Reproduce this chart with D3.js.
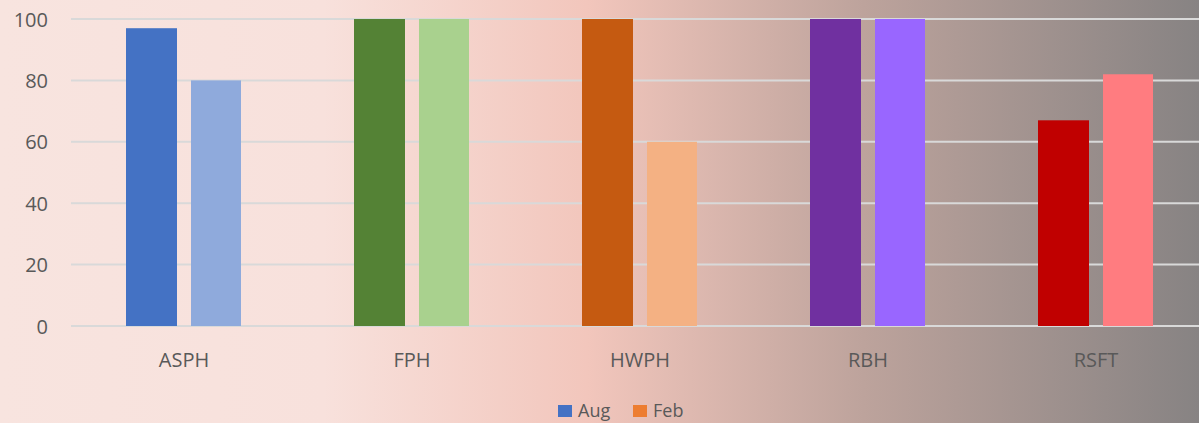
<!DOCTYPE html>
<html>
<head>
<meta charset="utf-8">
<script src="https://cdn.jsdelivr.net/npm/d3@7"></script>
<style>
  body { margin: 0; }
  svg { display: block; font-family: "Open Sans", sans-serif; }
</style>
</head>
<body>
<div id="chart"></div>
<script>
const categories = ['ASPH', 'FPH', 'HWPH', 'RBH', 'RSFT'];
const seriesNames = ['Aug', 'Feb'];
const augValues = [97, 100, 100, 100, 67];
const febValues = [80, 100, 60, 100, 82];
const augColors = ['#4472C4', '#548235', '#C55A11', '#7030A0', '#C00000'];
const febColors = ['#8FAADC', '#A9D18E', '#F4B183', '#9966FF', '#FF7C80'];
const legendColors = ['#4472C4', '#ED7D31'];
const yTicks = [0, 20, 40, 60, 80, 100];

const width = 1199, height = 423;

const svg = d3.select('#chart')
  .append('svg')
  .attr('width', width)
  .attr('height', height);

// background gradient
const grad = svg.append('defs').append('linearGradient')
  .attr('id', 'bg')
  .attr('x1', '0%').attr('x2', '100%').attr('y1', '0%').attr('y2', '0%');
[[0, '#F8E4DF'], [0.27, '#F8E1DC'], [0.49, '#F2C6BC'], [0.72, '#BDA39C'], [1, '#878383']]
  .forEach(([o, c]) => grad.append('stop').attr('offset', o).attr('stop-color', c));

svg.append('rect')
  .attr('width', width).attr('height', height)
  .attr('fill', 'url(#bg)');

const x = d3.scaleBand()
  .domain(categories)
  .range([70, 1210]);

const y = d3.scaleLinear()
  .domain([0, 100])
  .range([326, 19]);

// gridlines
svg.append('g')
  .selectAll('line')
  .data(yTicks)
  .join('line')
  .attr('x1', 71)
  .attr('x2', width)
  .attr('y1', d => y(d))
  .attr('y2', d => y(d))
  .attr('stroke', '#D9D9D9')
  .attr('stroke-width', 2);

// y tick labels
svg.append('g')
  .selectAll('text')
  .data(yTicks)
  .join('text')
  .attr('x', 48)
  .attr('y', d => y(d))
  .attr('dy', '0.38em')
  .attr('text-anchor', 'end')
  .attr('font-size', 20)
  .attr('fill', '#595959')
  .text(d => d);

const barW = 51, gap = 14;

const groups = svg.append('g')
  .selectAll('g')
  .data(categories)
  .join('g')
  .attr('transform', d => `translate(${x(d) + x.bandwidth() / 2},0)`);

groups.append('rect')
  .attr('x', -gap / 2 - barW)
  .attr('y', (d, i) => y(augValues[i]))
  .attr('width', barW)
  .attr('height', (d, i) => y(0) - y(augValues[i]))
  .attr('fill', (d, i) => augColors[i]);

groups.append('rect')
  .attr('x', gap / 2)
  .attr('y', (d, i) => y(febValues[i]))
  .attr('width', barW - 1)
  .attr('height', (d, i) => y(0) - y(febValues[i]))
  .attr('fill', (d, i) => febColors[i]);

// category labels
groups.append('text')
  .attr('y', 367)
  .attr('text-anchor', 'middle')
  .attr('font-size', 20)
  .attr('fill', '#595959')
  .text(d => d);

// legend
const legend = svg.append('g').attr('transform', 'translate(558,405)');
const legendX = [0, 75];
seriesNames.forEach((name, i) => {
  legend.append('rect')
    .attr('x', legendX[i])
    .attr('y', 0)
    .attr('width', 14)
    .attr('height', 12)
    .attr('fill', legendColors[i]);
  legend.append('text')
    .attr('x', legendX[i] + 20)
    .attr('y', 12)
    .attr('font-size', 18)
    .attr('fill', '#595959')
    .text(name);
});
</script>
</body>
</html>
